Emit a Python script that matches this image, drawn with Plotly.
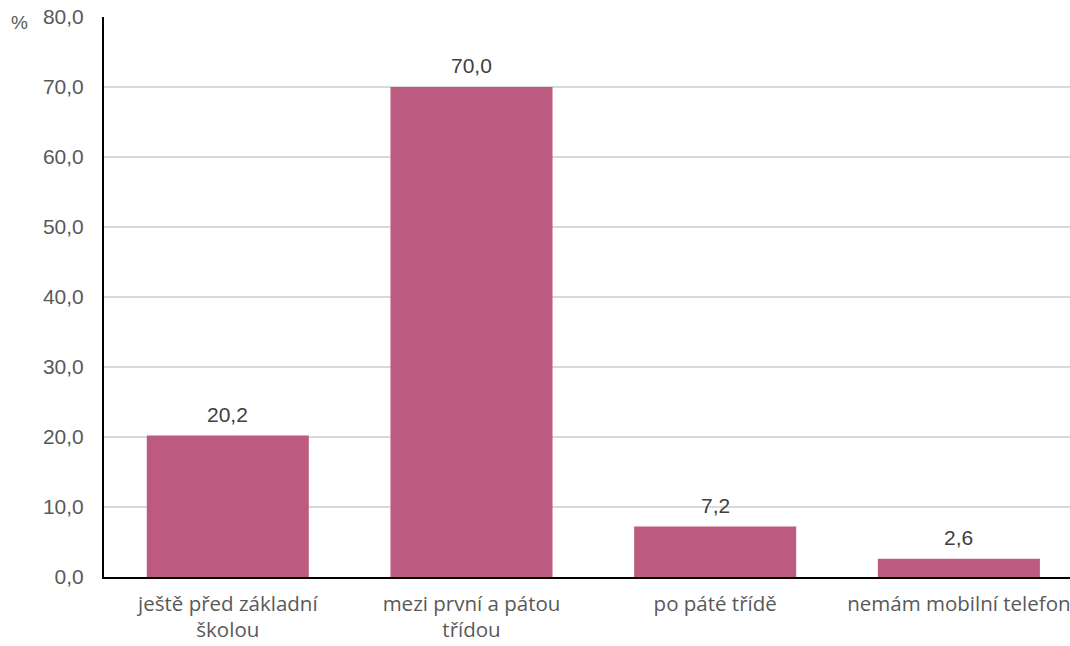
import plotly.graph_objects as go

categories = ["ještě před základní<br>školou", "mezi první a pátou<br>třídou", "po páté třídě", "nemám mobilní telefon"]
values = [20.2, 70.0, 7.2, 2.6]
y_ticks = [0, 10, 20, 30, 40, 50, 60, 70, 80]

bar_color = "#BC5B7F"

fig = go.Figure()
fig.add_trace(go.Bar(
    x=list(range(len(categories))),
    y=values,
    width=0.665,
    marker=dict(color=bar_color, line=dict(width=0)),
    hoverinfo="skip",
))

for i, v in enumerate(values):
    fig.add_annotation(
        x=i, y=v, text=f"{v:.1f}".replace(".", ","),
        showarrow=False, yanchor="bottom", yshift=8,
        font=dict(family="Liberation Sans, Arial", size=21, color="#404040"),
    )

fig.add_annotation(
    xref="paper", yref="paper", x=-0.098, y=1.0, xanchor="left", yanchor="middle",
    text="%", showarrow=False,
    font=dict(family="Liberation Sans, Arial", size=19, color="#595959"),
    yshift=-5,
)

fig.update_layout(
    width=1070, height=646,
    margin=dict(l=104, r=0, t=17, b=69),
    plot_bgcolor="white", paper_bgcolor="white",
    separators=", ",
    showlegend=False,
)
fig.update_xaxes(
    range=[-0.508, 3.456], automargin=False, ticklabeloverflow="allow",
    tickmode="array", tickvals=list(range(len(categories))), ticktext=categories,
    showline=True, linecolor="black", linewidth=2,
    showgrid=False, ticks="", ticklabelstandoff=7,
    tickfont=dict(family="Open Sans, Noto Sans", size=20.5, color="#595959"),
)
fig.update_yaxes(
    range=[0, 80], automargin=False, ticklabeloverflow="allow",
    tickmode="array", tickvals=y_ticks, tickformat=".1f",
    showline=True, linecolor="black", linewidth=2,
    showgrid=True, gridcolor="#D9D9D9", gridwidth=1.5,
    zeroline=False, ticks="", ticklabelstandoff=14,
    tickfont=dict(family="Liberation Sans, Arial", size=21, color="#595959"),
)

fig.write_html(
    "out.html",
    config={"displayModeBar": False},
    post_script="document.body.style.margin='0';document.body.style.overflow='hidden';",
)
